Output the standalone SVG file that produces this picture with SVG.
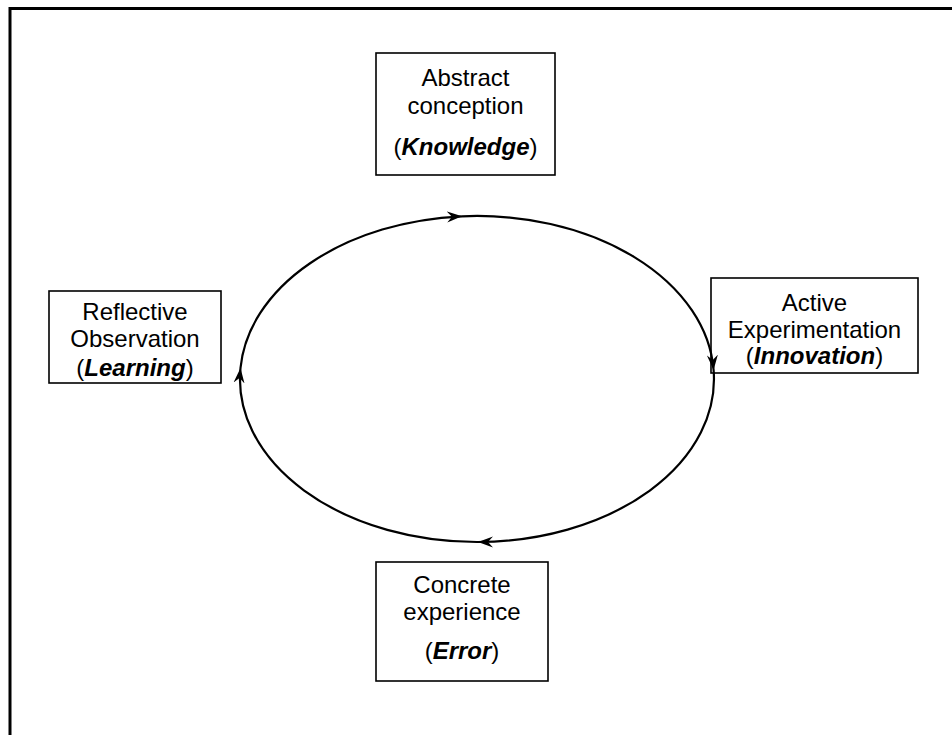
<svg xmlns="http://www.w3.org/2000/svg" width="952" height="735" viewBox="0 0 952 735">
  <style>
    .box { fill: #ffffff; stroke: #000000; stroke-width: 1.6; }
    .lbl { font-family: "Liberation Sans", Arial, sans-serif; font-size: 24px; fill: #000000; text-anchor: middle; }
    .em { font-weight: bold; font-style: italic; }
    .cycle { fill: none; stroke: #000000; stroke-width: 2.2; }
    .frame { fill: none; stroke: #000000; stroke-width: 3; }
  </style>
  <defs>
    <marker id="barb" markerWidth="20" markerHeight="14" refX="15" refY="7" orient="auto" markerUnits="userSpaceOnUse">
      <path d="M0,1.5 L15,7 L0,12.5 L5,7 Z" fill="#000000"/>
    </marker>
  </defs>

  <rect width="952" height="735" fill="#ffffff"/>
  <!-- outer frame: top and left edges -->
  <path class="frame" d="M10,735 L10,8.5 L952,8.5"/>

  <g id="abstract-conception">
    <rect class="box" x="376" y="53" width="179" height="122"/>
    <text class="lbl" x="465.5" y="86">Abstract</text>
    <text class="lbl" x="465.5" y="114">conception</text>
    <text class="lbl" x="465.5" y="155">(<tspan class="em">Knowledge</tspan>)</text>
  </g>

  <g id="reflective-observation">
    <rect class="box" x="49" y="291" width="172" height="92"/>
    <text class="lbl" x="135" y="320">Reflective</text>
    <text class="lbl" x="135" y="347">Observation</text>
    <text class="lbl" x="135" y="376">(<tspan class="em">Learning</tspan>)</text>
  </g>

  <g id="active-experimentation">
    <rect class="box" x="711" y="278" width="207" height="95"/>
    <text class="lbl" x="814.5" y="311">Active</text>
    <text class="lbl" x="814.5" y="338">Experimentation</text>
    <text class="lbl" x="814.5" y="364">(<tspan class="em">Innovation</tspan>)</text>
  </g>

  <g id="concrete-experience">
    <rect class="box" x="376" y="562" width="172" height="119"/>
    <text class="lbl" x="462" y="593">Concrete</text>
    <text class="lbl" x="462" y="620">experience</text>
    <text class="lbl" x="462" y="659">(<tspan class="em">Error</tspan>)</text>
  </g>

  <!-- cycle connectors, clockwise -->
  <g id="connectors">
    <path class="cycle" d="M462,216.3 A237,163 0 0 1 713.6,370" marker-end="url(#barb)"/>
    <path class="cycle" d="M713.6,370 A237,163 0 0 1 478,542" marker-end="url(#barb)"/>
    <path class="cycle" d="M478,542 A237,163 0 0 1 240.5,368" marker-end="url(#barb)"/>
    <path class="cycle" d="M240.5,368 A237,163 0 0 1 462,216.3" marker-end="url(#barb)"/>
  </g>
</svg>
